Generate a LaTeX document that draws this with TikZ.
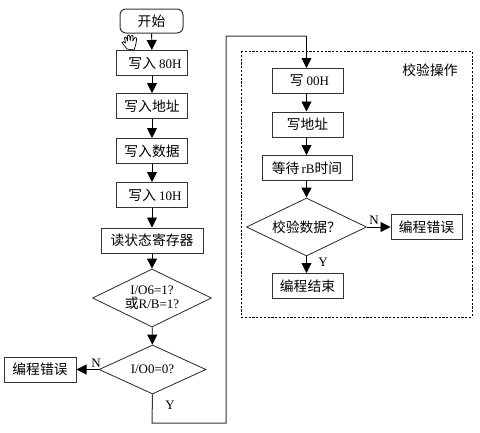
\documentclass[tikz,border=0pt]{standalone}
\usepackage{fontspec}
\setmainfont{Liberation Serif}
\newfontfamily\cjk[Scale=1.06]{Noto Sans CJK SC}
\usetikzlibrary{arrows.meta,shapes.geometric}
\tikzset{
  every node/.style={font=\fontsize{13}{15}\selectfont},
  stepbox/.style={draw=black!80,line width=1pt,rectangle,inner sep=0pt,minimum width=#1,minimum height=25pt},
  stepbox/.default=71pt,
  startbox/.style={draw=black!80,line width=1pt,rectangle,rounded corners=6pt,inner sep=0pt,minimum width=63pt,minimum height=24pt},
  decision/.style={draw=black!85,line width=0.8pt,diamond,aspect=2,inner sep=0pt,align=center},
  flow/.style={draw=black,line width=0.9pt,-{Triangle[width=10pt,length=10pt]}},
  route/.style={draw=black!80,line width=1pt},
  frame/.style={draw=black,line width=0.8pt,dash pattern=on 2.2pt off 1.6pt},
  mark label/.style={inner sep=0pt}
}
\begin{document}
\begin{tikzpicture}[x=1pt,y=-1pt]
\useasboundingbox (0,0) rectangle (480,432);
% dashed frame
\draw[frame] (241,51) rectangle (472,317);
\node[inner sep=0pt] (title) at (430,70) {\cjk 校验操作};
% left column
\node[startbox] (start) at (151.5,21) {\cjk 开始};
\node[stepbox] (w80) at (152,63) {\hspace{6pt}\cjk 写入 \rmfamily 80H};
\node[stepbox] (waddr) at (152,106) {\cjk 写入地址};
\node[stepbox] (wdata) at (152,151) {\cjk 写入数据};
\node[stepbox] (w10) at (152,195) {\hspace{6pt}\cjk 写入 \rmfamily 10H};
\node[stepbox=102pt] (rsr) at (152,240.5) {\cjk 读状态寄存器};
\node[decision,minimum width=119pt,minimum height=58pt] (d1) at (152,298) {I/O6=1?\\[-1pt]{\cjk 或}R/B=1?};
\node[decision,minimum width=107pt,minimum height=49pt] (d2) at (152.5,369.5) {I/O0=0?};
\node[stepbox=72pt] (err1) at (40,369.5) {\cjk 编程错误};
% right column
\node[stepbox] (w00) at (307.5,81) {\hspace{4pt}\cjk 写 \rmfamily 00H};
\node[stepbox] (waddr2) at (307.5,124.5) {\cjk 写地址};
\node[stepbox=90pt] (wait) at (307,168) {{\cjk 等待}\hspace{2pt}rB{\cjk 时间}};
\node[decision,minimum width=120pt,minimum height=58pt] (d3) at (306.5,227) {\cjk 校验数据？};
\node[stepbox=71pt] (err2) at (426.5,227) {\cjk 编程错误};
\node[stepbox=71pt] (fin) at (307.5,286) {\cjk 编程结束};
% connectors
\coordinate (c1) at (152,423);
\coordinate (c2) at (226,423);
\coordinate (c3) at (226,36);
\coordinate (c4) at (306.5,36);
\draw[flow] (start) -- (w80);
\draw[flow] (w80) -- (waddr);
\draw[flow] (waddr) -- (wdata);
\draw[flow] (wdata) -- (w10);
\draw[flow] (w10) -- (rsr);
\draw[flow] (rsr) -- (d1);
\draw[flow] (d1) -- (d2);
\draw[flow] (d2) -- (err1);
\draw[route] (d2.south) -- (c1) -- (c2) -- (c3) -- (c4);
\draw[flow] (c4) -- (w00.north -| c4);
\draw[flow] (w00.south -| c4) -- (waddr2.north -| c4);
\draw[flow] (waddr2.south -| c4) -- (wait.north -| c4);
\draw[flow] (wait.south -| c4) -- (d3.north);
\draw[flow] (d3) -- (err2);
\draw[flow] (d3.south) -- (fin.north -| d3.south);
% labels
\node[mark label] (n1) at (96,363) {N};
\node[mark label] (y1) at (170,405) {Y};
\node[mark label] (n2) at (374,220) {N};
\node[mark label] (y2) at (323,262) {Y};
% hand cursor
\draw[black,fill=white,line width=0.7pt,line join=round]
 (127,49) .. controls (125,46) and (122.5,44) .. (122,42.5)
 .. controls (122,41) and (124,41.5) .. (125.5,43)
 -- (124.5,38) .. controls (124.5,36.5) and (126,36.5) .. (126.5,38)
 -- (127.5,41) -- (127.5,36) .. controls (128,34.5) and (129.5,34.5) .. (129.7,36)
 -- (130.2,40.5) -- (131,36) .. controls (131.5,35) and (133,35) .. (133,36.5)
 -- (132.8,41) -- (134.5,38) .. controls (135.5,37) and (136.8,37.5) .. (136.6,39)
 .. controls (136.3,43) and (135.5,46) .. (134,50) -- cycle;
\end{tikzpicture}
\end{document}
